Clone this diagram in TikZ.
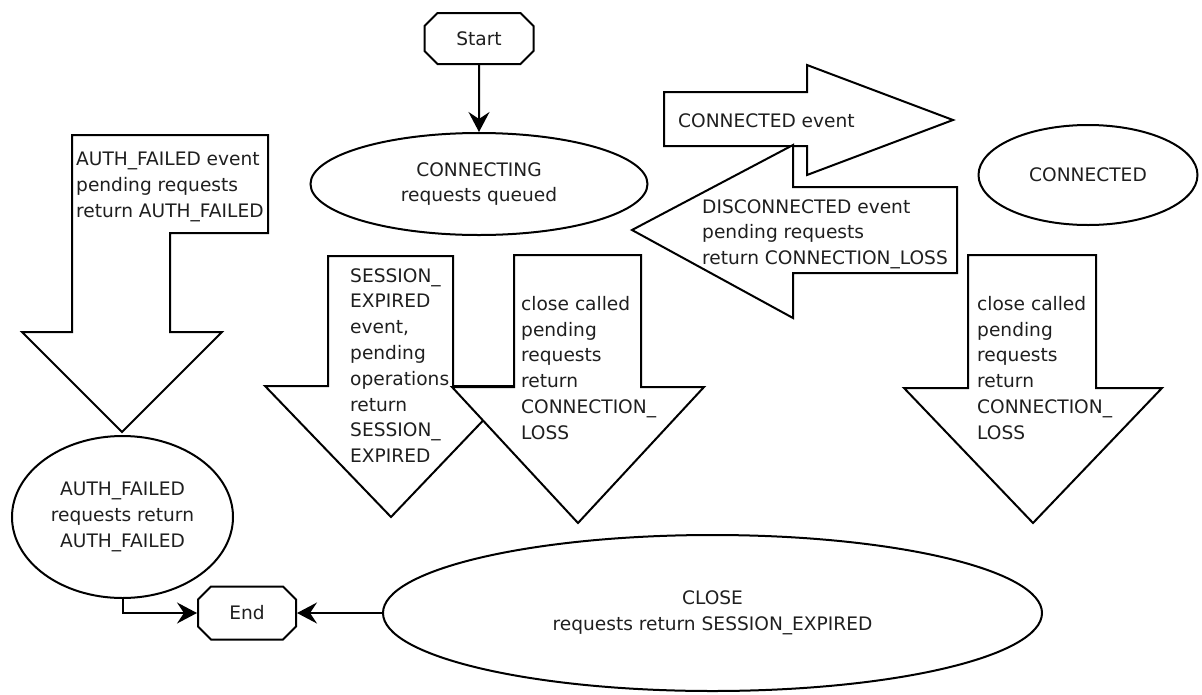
\documentclass[tikz,border=0pt]{standalone}
\usepackage{fontspec}
\setmainfont{DejaVu Sans}
\usetikzlibrary{shapes.geometric,shapes.misc,arrows.meta}
\begin{document}
\begin{tikzpicture}[x=1pt,y=-1pt,
  every node/.style={font=\fontsize{18.6}{25.8}\selectfont, text=black!88},
  blk/.style={draw=black, line width=2pt, fill=white, line join=miter},
  state/.style={draw=black, line width=2pt, ellipse, inner sep=0pt, align=center},
  term/.style={draw=black, line width=2pt, chamfered rectangle, chamfered rectangle xsep=6pt, chamfered rectangle ysep=7pt, inner sep=0pt},
  txt/.style={inner sep=0pt, align=left, anchor=north west},
  conn/.style={draw=black, line width=2pt, -{Stealth[length=20pt,width=21pt,inset=7pt]}}]
\useasboundingbox (0,0) rectangle (1202,694);

% block arrows
\draw[blk] (72,135) -- (268,135) -- (268,233) -- (170,233) -- (170,332) -- (222,332) -- (122,432) -- (22,332) -- (72,332) -- cycle;
\draw[blk] (328,256) -- (453,256) -- (453,386) -- (516,386) -- (391,517) -- (265,386) -- (328,386) -- cycle;
\draw[blk] (514,255) -- (641,255) -- (641,387) -- (704,387) -- (578,523) -- (452,387) -- (514,387) -- cycle;
\draw[blk] (968,255) -- (1096,255) -- (1096,388) -- (1162,388) -- (1033,523) -- (904,388) -- (968,388) -- cycle;
\draw[blk] (664,92) -- (807,92) -- (807,65) -- (953,120) -- (807,175) -- (807,146) -- (664,146) -- cycle;
\draw[blk] (957,187) -- (793,187) -- (793,145) -- (632,230) -- (793,318) -- (793,273) -- (957,273) -- cycle;

% block arrow texts
\node[txt] (tauth) at (76,152) {AUTH\_FAILED event\\pending requests\\return AUTH\_FAILED};
\node[txt] (tsess) at (350,268) {SESSION\_\\EXPIRED\\event,\\pending\\operations\\return\\SESSION\_\\EXPIRED};
\node[txt] (tclosea) at (521,296) {close called\\pending\\requests\\return\\CONNECTION\_\\LOSS};
\node[txt] (tcloseb) at (977,296) {close called\\pending\\requests\\return\\CONNECTION\_\\LOSS};
\node[inner sep=0pt, anchor=base west] (tconn) at (678,127) {CONNECTED event};
\node[txt] (tdisc) at (702,199) {DISCONNECTED event\\pending requests\\return CONNECTION\_LOSS};

% states
\node[term, minimum width=109pt, minimum height=51pt] (start) at (479,38.5) {Start};
\node[state, minimum width=337pt, minimum height=102pt] (connecting) at (479,184) {CONNECTING\\requests queued};
\node[state, minimum width=219pt, minimum height=100pt] (connected) at (1088,175) {CONNECTED};
\node[state, minimum width=221pt, minimum height=162pt] (authf) at (122.5,517) {AUTH\_FAILED\\requests return\\AUTH\_FAILED};
\node[state, minimum width=659pt, minimum height=156pt] (close) at (712.5,613) {CLOSE\\requests return SESSION\_EXPIRED};
\node[term, minimum width=98pt, minimum height=53pt] (end) at (247,613) {End};

% connectors
\draw[conn] (start) -- (connecting);
\draw[conn] (authf.south) |- (end.west);
\draw[conn] (close.west) -- (end.east);
\end{tikzpicture}
\end{document}
